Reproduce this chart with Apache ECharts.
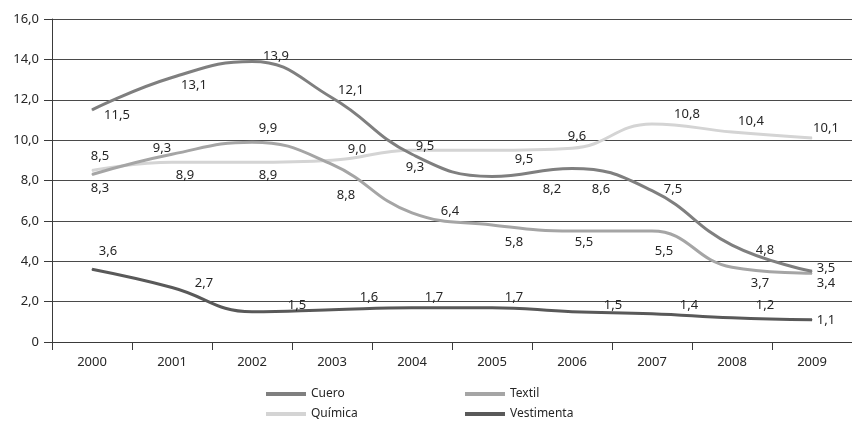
<!DOCTYPE html>
<html>
<head>
<meta charset="utf-8">
<script src="https://cdn.jsdelivr.net/npm/echarts@6/dist/echarts.min.js"></script>
<style>
html,body{margin:0;padding:0;background:#fff;}
#c{width:852px;height:421px;}
</style>
</head>
<body>
<div id="c"></div>
<script>
// ---- data ----
var years = ['2000','2001','2002','2003','2004','2005','2006','2007','2008','2009'];
var cuero      = [11.5, 13.1, 13.9, 12.1, 9.3, 8.2, 8.6, 7.5, 4.8, 3.5];
var textil     = [8.3, 9.3, 9.9, 8.8, 6.4, 5.8, 5.5, 5.5, 3.7, 3.4];
var quimica    = [8.5, 8.9, 8.9, 9.0, 9.5, 9.5, 9.6, 10.8, 10.4, 10.1];
var vestimenta = [3.6, 2.7, 1.5, 1.6, 1.7, 1.7, 1.5, 1.4, 1.2, 1.1];
var yTicks = [0, 2, 4, 6, 8, 10, 12, 14, 16];

// ---- label placement (layout only) ----
var offCuero = [[25,5],[22,8],[24,-5],[19,-7],[3,13],[60,13],[29,21],[21,-1],[33,5],[14,-3]];
var offTextil = [[8,14],[-10,-6],[16,-14],[14,31],[38,-2],[22,17],[12,11],[12,20],[28,16],[14,10]];
var offQuimica = [[8,-14],[13,13],[16,13],[25,-11],[13,-4],[32,9],[5,-12],[35,-10],[19,-11],[14,-10]];
var offVest = [[16,-18],[32,-4],[45,-6],[37,-12],[22,-10],[22,-10],[41,-6],[37,-8],[33,-12],[14,1]];

function fmt(v){ return v.toFixed(1).replace('.', ','); }
function build(vals, offs){
  return vals.map(function(v,i){
    return {value: v, label: {offset: offs[i]}};
  });
}
var FONT = '"Noto Sans", "Open Sans", sans-serif';
var TXT = '#262626';

function mkSeries(name, vals, offs, color){
  return {
    name: name, type: 'line', smooth: 0.45,
    data: build(vals, offs),
    symbol: 'circle', symbolSize: 1, showSymbol: true,
    itemStyle: {color: color},
    lineStyle: {color: color, width: 3},
    label: {
      show: true, position: 'inside', align: 'center', verticalAlign: 'middle',
      color: TXT, fontSize: 13, fontFamily: FONT,
      formatter: function(p){ return fmt(p.value); }
    },
    emphasis: {disabled: true},
    animation: false
  };
}
function mkLegend(name, left, top){
  return {
    data: [name], left: left, top: top, padding: 0,
    icon: 'rect', itemWidth: 40, itemHeight: 4, itemGap: 6,
    textStyle: {color: TXT, fontSize: 12, fontFamily: FONT},
    selectedMode: false
  };
}

var chart = echarts.init(document.getElementById('c'), null, {renderer: 'canvas'});
chart.setOption({
  animation: false,
  backgroundColor: '#ffffff',
  grid: {left: 52, top: 19, width: 807.5, height: 323, containLabel: false},
  xAxis: {
    type: 'category', data: years, boundaryGap: true,
    axisLine: {show: true, lineStyle: {color: '#3a3a3a', width: 1}},
    axisTick: {show: true, length: 8, lineStyle: {color: '#3a3a3a'}},
    axisLabel: {color: TXT, fontSize: 13, fontFamily: FONT, margin: 14}
  },
  yAxis: {
    type: 'value', min: 0, max: 16, interval: 2,
    axisLine: {show: true, lineStyle: {color: '#3a3a3a', width: 1}},
    axisTick: {show: true, length: 8, lineStyle: {color: '#3a3a3a'}},
    splitLine: {show: true, lineStyle: {color: '#4a4a4a', width: 1}},
    axisLabel: {
      color: TXT, fontSize: 13, fontFamily: FONT, margin: 13,
      formatter: function(v){ return yTicks.indexOf(v) === 0 ? '0' : fmt(v); }
    }
  },
  legend: [
    mkLegend('Cuero', 266, 388),
    mkLegend('Textil', 465, 388),
    mkLegend('Química', 266, 408),
    mkLegend('Vestimenta', 465, 408)
  ],
  series: [
    mkSeries('Química', quimica, offQuimica, '#d4d4d4'),
    mkSeries('Textil', textil, offTextil, '#a5a5a5'),
    mkSeries('Cuero', cuero, offCuero, '#7f7f7f'),
    mkSeries('Vestimenta', vestimenta, offVest, '#595959')
  ]
});
</script>
</body>
</html>
